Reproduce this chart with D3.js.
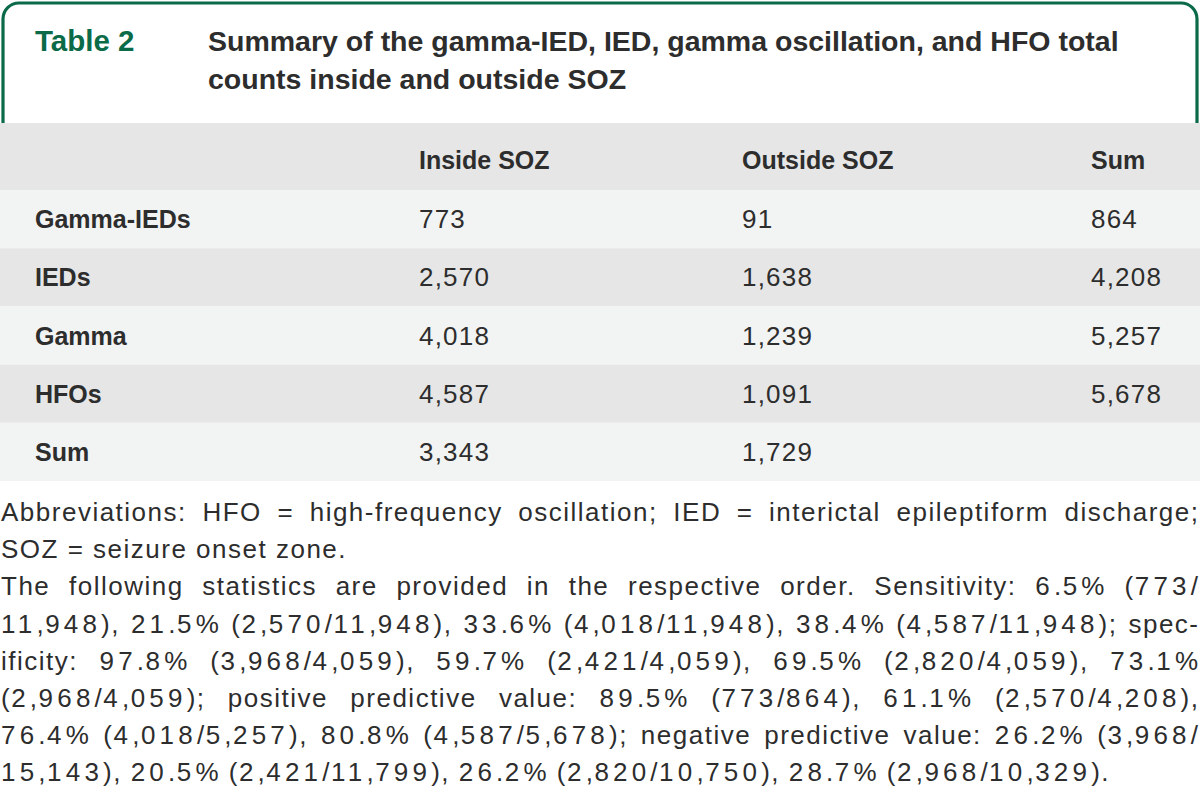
<!DOCTYPE html>
<html>
<head>
<meta charset="utf-8">
<script src="https://cdn.jsdelivr.net/npm/d3@7"></script>
<style>
  html, body { margin: 0; padding: 0; background: #ffffff; }
  svg { display: block; }
</style>
</head>
<body>
<svg id="chart" width="1200" height="812"></svg>
<script>
// ---------- data ----------
const tableLabel = "Table 2";
const titleLines = [
  "Summary of the gamma-IED, IED, gamma oscillation, and HFO total",
  "counts inside and outside SOZ"
];
const columnHeaders = ["", "Inside SOZ", "Outside SOZ", "Sum"];
const rowLabels = ["Gamma-IEDs", "IEDs", "Gamma", "HFOs", "Sum"];
const insideSOZ = [773, 2570, 4018, 4587, 3343];
const outsideSOZ = [91, 1638, 1239, 1091, 1729];
const rowSum = [864, 4208, 5257, 5678, null];
const footnoteLines = [
  "Abbreviations: HFO = high-frequency oscillation; IED = interictal epileptiform discharge;",
  "SOZ = seizure onset zone.",
  "The following statistics are provided in the respective order. Sensitivity: 6.5% (773/",
  "11,948), 21.5% (2,570/11,948), 33.6% (4,018/11,948), 38.4% (4,587/11,948); spec-",
  "ificity: 97.8% (3,968/4,059), 59.7% (2,421/4,059), 69.5% (2,820/4,059), 73.1%",
  "(2,968/4,059); positive predictive value: 89.5% (773/864), 61.1% (2,570/4,208),",
  "76.4% (4,018/5,257), 80.8% (4,587/5,678); negative predictive value: 26.2% (3,968/",
  "15,143), 20.5% (2,421/11,799), 26.2% (2,820/10,750), 28.7% (2,968/10,329)."
];
const justified = [true, false, true, true, true, true, true, false];

// ---------- layout ----------
const W = 1200;
const green = "#0b6b48";
const textCol = "#2d2d2d";
const greyRow = "#e6e6e6";
const lightRow = "#f2f3f3";
const fontFam = "'Liberation Sans', Arial, Helvetica, sans-serif";

const svg = d3.select("#chart");

// header box with rounded top corners (open at the bottom)
const boxTop = 3, boxLeft = 3, boxRight = W - 3, boxBottom = 124, r = 16;
const p = d3.path();
p.moveTo(boxLeft, boxBottom);
p.lineTo(boxLeft, boxTop + r);
p.arcTo(boxLeft, boxTop, boxLeft + r, boxTop, r);
p.lineTo(boxRight - r, boxTop);
p.arcTo(boxRight, boxTop, boxRight, boxTop + r, r);
p.lineTo(boxRight, boxBottom);
svg.append("path").attr("d", p.toString())
  .attr("fill", "none").attr("stroke", green).attr("stroke-width", 3.2);

svg.append("text")
  .attr("x", 35).attr("y", 51)
  .attr("font-family", fontFam).attr("font-weight", 700).attr("font-size", 29.5)
  .attr("fill", green).text(tableLabel);

svg.selectAll("text.title").data(titleLines).join("text")
  .attr("class", "title")
  .attr("x", 208)
  .attr("y", (d, i) => 51 + i * 38)
  .attr("font-family", fontFam).attr("font-weight", 700).attr("font-size", 28.5)
  .attr("fill", textCol).text(d => d);

// ---------- table ----------
const colX = d3.scaleOrdinal().domain(d3.range(columnHeaders.length)).range([35, 419, 742, 1091]);
const headerTop = 123, headerBottom = 190, tableBottom = 481;
const yRow = d3.scaleBand().domain(d3.range(rowLabels.length)).range([headerBottom, tableBottom]).padding(0);

svg.append("rect").attr("x", 0).attr("y", headerTop).attr("width", W)
  .attr("height", headerBottom - headerTop).attr("fill", greyRow);

svg.selectAll("rect.row").data(rowLabels).join("rect")
  .attr("class", "row")
  .attr("x", 0).attr("y", (d, i) => yRow(i))
  .attr("width", W).attr("height", yRow.bandwidth())
  .attr("fill", (d, i) => i % 2 === 0 ? lightRow : greyRow);

svg.selectAll("text.colhead").data(columnHeaders).join("text")
  .attr("class", "colhead")
  .attr("x", (d, i) => colX(i)).attr("y", 169)
  .attr("font-family", fontFam).attr("font-weight", 700).attr("font-size", 25)
  .attr("fill", textCol).text(d => d);

const fmt = d3.format(",");
const rows = rowLabels.map((lab, i) => [lab, insideSOZ[i], outsideSOZ[i], rowSum[i]]);
const rowG = svg.selectAll("g.trow").data(rows).join("g")
  .attr("class", "trow")
  .attr("transform", (d, i) => `translate(0,${yRow(i) + yRow.bandwidth() / 2 + 9})`);
rowG.selectAll("text").data(d => d).join("text")
  .attr("x", (d, j) => colX(j)).attr("y", 0)
  .attr("font-family", fontFam)
  .attr("font-weight", (d, j) => j === 0 ? 700 : 400)
  .attr("font-size", (d, j) => j === 0 ? 25 : 26)
  .attr("letter-spacing", (d, j) => j === 0 ? 0 : 1.2)
  .attr("fill", textCol)
  .text((d, j) => j === 0 ? d : (d == null ? "" : fmt(d)));

// ---------- footnotes (justified lines, wide figures) ----------
const fnSize = 26, fnSpacing = 1.5, digitSpacing = 4.2;
const fnTop = 521, fnStep = 37.2, fnLeft = 1, fnRight = 1198;

function fillRuns(node, str) {
  const runs = str.match(/[0-9]+|[^0-9]+/g) || [];
  d3.select(node).selectAll("tspan.run").data(runs).join("tspan")
    .attr("class", "run")
    .attr("letter-spacing", d => /^[0-9]/.test(d) ? digitSpacing : fnSpacing)
    .text(d => d);
}

footnoteLines.forEach((line, i) => {
  const y = fnTop + i * fnStep;
  const t = svg.append("text")
    .attr("y", y)
    .attr("font-family", fontFam).attr("font-size", fnSize)
    .attr("letter-spacing", fnSpacing)
    .attr("fill", textCol);
  if (!justified[i]) {
    t.attr("x", fnLeft);
    fillRuns(t.node(), line);
    return;
  }
  const words = line.split(" ");
  const spans = t.selectAll("tspan.word").data(words).join("tspan").attr("class", "word");
  spans.each(function (d) { fillRuns(this, d); });
  const widths = [];
  spans.each(function () { widths.push(this.getComputedTextLength()); });
  const total = d3.sum(widths) - fnSpacing;
  const gap = (fnRight - fnLeft - total) / (words.length - 1);
  let x = fnLeft;
  spans.attr("x", (d, k) => { const xx = x; x += widths[k] + gap; return xx; });
});
</script>
</body>
</html>
